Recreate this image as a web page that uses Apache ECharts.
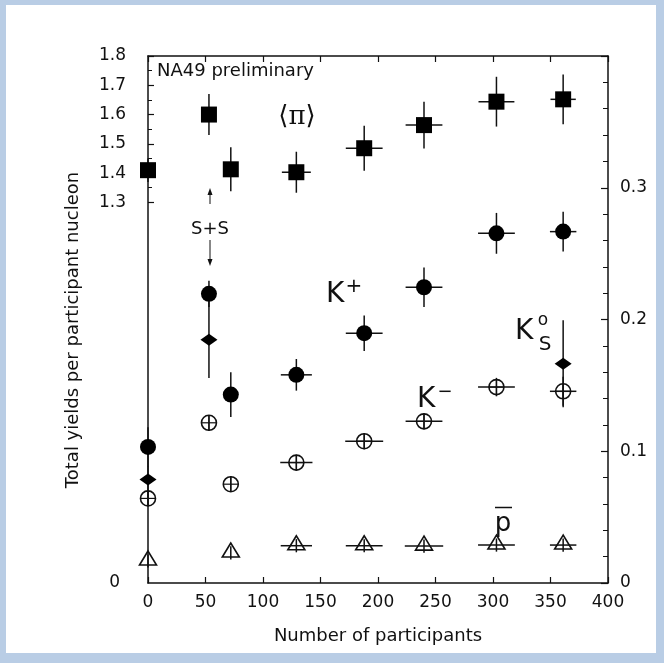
<!DOCTYPE html>
<html><head><meta charset="utf-8">
<script src="https://cdn.jsdelivr.net/npm/echarts@6/dist/echarts.min.js"></script>
<style>
html,body{margin:0;padding:0;background:#b9cde5;width:664px;height:663px;overflow:hidden;}
#frame{position:absolute;left:6px;top:5px;width:650px;height:648px;background:#fff;}
#chart{position:absolute;left:0;top:0;width:664px;height:663px;}
</style></head><body>
<div id="frame"></div><div id="chart"></div>
<script>
// ---- data ----
const xTicks = [0, 50, 100, 150, 200, 250, 300, 350, 400];
const leftTickLabels = [1.3, 1.4, 1.5, 1.6, 1.7, 1.8];
const rightTickLabels = [0, 0.1, 0.2, 0.3];

// <pi> (left axis)
const pionX    = [0, 53, 72, 129, 188, 240, 303, 361];
const pionY    = [1.41, 1.60, 1.413, 1.403, 1.485, 1.564, 1.644, 1.652];
const pionYErr = [0.04, 0.07, 0.075, 0.07, 0.077, 0.08, 0.085, 0.085];
const pionXErr = [0, 0, 0, 12.6, 16, 16, 15.6, 11];

// K+ (right axis)
const kplusX    = [0, 53, 72, 129, 188, 240, 303, 361];
const kplusY    = [0.1033, 0.2195, 0.143, 0.158, 0.1896, 0.2245, 0.2654, 0.2667];
const kplusYErr = [0.015, 0.01, 0.017, 0.012, 0.0135, 0.015, 0.0155, 0.015];
const kplusXErr = [0, 0, 0, 13.5, 16, 16, 16, 11.5];

// K0S (right axis)
const k0X    = [0, 53, 361];
const k0Y    = [0.0786, 0.1846, 0.1664];
const k0YErr = [0.01, 0.029, 0.033];
const k0XErr = [0, 0, 0];

// K- (right axis)
const kminusX    = [0, 53, 72, 129, 188, 240, 303, 361];
const kminusY    = [0.0642, 0.1216, 0.075, 0.0914, 0.1076, 0.1227, 0.1487, 0.1455];
const kminusYErr = [0.006, 0.006, 0.006, 0.006, 0.006, 0.006, 0.007, 0.011];
const kminusXErr = [0, 0, 0, 14, 16.5, 16, 16, 11.5];

// pbar (right axis)
const pbarX    = [0, 72, 129, 188, 240, 303, 361];
const pbarY    = [0.0167, 0.0228, 0.0283, 0.0283, 0.028, 0.0288, 0.0288];
const pbarYErr = [0.005, 0.005, 0.005, 0.005, 0.005, 0.005, 0.005];
const pbarXErr = [0, 0, 13.6, 16, 16.7, 16, 11.5];

// ---- build ----
const INK = '#111';
const FONT = 'DejaVu Sans';
function rows(xs, ys, eys, exs) { return xs.map((x, i) => [x, ys[i], eys[i], exs[i]]); }
function pts(xs, ys) { return xs.map((x, i) => [x, ys[i]]); }

function errRender(params, api) {
  const x = api.value(0), y = api.value(1), ey = api.value(2), ex = api.value(3);
  const ch = [];
  const a = api.coord([x, y - ey]), b = api.coord([x, y + ey]);
  ch.push({type: 'line', shape: {x1: a[0], y1: a[1], x2: b[0], y2: b[1]}, style: {stroke: INK, lineWidth: 1.5}});
  if (ex > 0) {
    const c = api.coord([x - ex, y]), d = api.coord([x + ex, y]);
    ch.push({type: 'line', shape: {x1: c[0], y1: c[1], x2: d[0], y2: d[1]}, style: {stroke: INK, lineWidth: 1.5}});
  }
  return {type: 'group', children: ch};
}
function oplusRender(params, api) {
  const p = api.coord([api.value(0), api.value(1)]);
  const r = 7.5;
  return {type: 'group', children: [
    {type: 'circle', shape: {cx: p[0], cy: p[1], r: r}, style: {fill: 'rgba(0,0,0,0)', stroke: INK, lineWidth: 1.6}},
    {type: 'line', shape: {x1: p[0] - r, y1: p[1], x2: p[0] + r, y2: p[1]}, style: {stroke: INK, lineWidth: 1.2}},
    {type: 'line', shape: {x1: p[0], y1: p[1] - r, x2: p[0], y2: p[1] + r}, style: {stroke: INK, lineWidth: 1.2}}
  ]};
}
function triRender(params, api) {
  const p = api.coord([api.value(0), api.value(1)]);
  const w = 17;
  return {type: 'polygon', shape: {points: [[p[0], p[1] - 10], [p[0] - w / 2, p[1] + 4], [p[0] + w / 2, p[1] + 4]]},
    style: {fill: 'rgba(0,0,0,0)', stroke: INK, lineWidth: 1.6}};
}

const errSeries = (data, yi) => ({type: 'custom', xAxisIndex: 0, yAxisIndex: yi, renderItem: errRender,
  encode: {x: 0, y: 1}, data: data, z: 2, silent: true});

const chart = echarts.init(document.getElementById('chart'), null, {renderer: 'canvas'});
const axisLine = {show: true, onZero: false, lineStyle: {color: INK, width: 1.5}};
const labelStyle = {color: INK, fontFamily: FONT, fontSize: 17};
const solid = {color: '#000', opacity: 1};

const option = {
  animation: false,
  grid: [
    {left: 148, right: 56, top: 56, bottom: 80},
    {left: 148, right: 56, top: 56, height: 527 * 0.5 / 1.8}
  ],
  xAxis: [
    {type: 'value', gridIndex: 0, position: 'bottom', min: xTicks[0], max: xTicks[xTicks.length - 1], interval: xTicks[1] - xTicks[0],
      axisLine: axisLine, splitLine: {show: false},
      axisTick: {show: true, inside: true, length: 6, lineStyle: {color: INK, width: 1.2}},
      axisLabel: Object.assign({margin: 11}, labelStyle),
      name: 'Number of participants', nameLocation: 'middle', nameGap: 44,
      nameTextStyle: {color: INK, fontFamily: FONT, fontSize: 18}},
    {type: 'value', gridIndex: 0, position: 'top', min: xTicks[0], max: xTicks[xTicks.length - 1], interval: xTicks[1] - xTicks[0],
      axisLine: axisLine, splitLine: {show: false},
      axisTick: {show: true, inside: true, length: 6, lineStyle: {color: INK, width: 1.2}},
      axisLabel: {show: false}},
    {type: 'value', gridIndex: 1, min: 0, max: 400, show: false}
  ],
  yAxis: [
    {type: 'value', gridIndex: 0, position: 'left', min: 0, max: 1.8, interval: 1.8,
      axisLine: axisLine, splitLine: {show: false}, axisTick: {show: false},
      axisLabel: Object.assign({margin: 28, formatter: v => v === 0 ? '0' : ''}, labelStyle)},
    {type: 'value', gridIndex: 0, position: 'right', min: 0, max: 0.4, interval: 0.1,
      axisLine: axisLine, splitLine: {show: false},
      axisTick: {show: true, inside: true, length: 7, lineStyle: {color: INK, width: 1.2}},
      minorTick: {show: true, splitNumber: 5, length: 5, lineStyle: {color: INK, width: 1}},
      minorSplitLine: {show: false},
      axisLabel: Object.assign({margin: 12, formatter: v => {
        const m = rightTickLabels.find(t => Math.abs(t - v) < 1e-6);
        return m === undefined ? '' : (m === 0 ? '0' : m.toFixed(1));
      }}, labelStyle)},
    {type: 'value', gridIndex: 1, position: 'left', min: leftTickLabels[0], max: leftTickLabels[leftTickLabels.length - 1], interval: 0.1,
      axisLine: {show: false, onZero: false}, splitLine: {show: false},
      axisTick: {show: true, inside: true, length: 6, lineStyle: {color: INK, width: 1.2}},
      minorTick: {show: true, splitNumber: 2, length: 4, lineStyle: {color: INK, width: 1}},
      minorSplitLine: {show: false},
      axisLabel: Object.assign({margin: 22, formatter: v => v.toFixed(1)}, labelStyle)}
  ],
  series: [
    errSeries(rows(pionX, pionY, pionYErr, pionXErr), 0),
    errSeries(rows(kplusX, kplusY, kplusYErr, kplusXErr), 1),
    errSeries(rows(k0X, k0Y, k0YErr, k0XErr), 1),
    errSeries(rows(kminusX, kminusY, kminusYErr, kminusXErr), 1),
    errSeries(rows(pbarX, pbarY, pbarYErr, pbarXErr), 1),
    {name: '<π>', type: 'scatter', xAxisIndex: 0, yAxisIndex: 0, symbol: 'rect', symbolSize: 16,
      itemStyle: solid, data: pts(pionX, pionY), z: 3, silent: true},
    {name: 'K+', type: 'scatter', xAxisIndex: 0, yAxisIndex: 1, symbol: 'circle', symbolSize: 16,
      itemStyle: solid, data: pts(kplusX, kplusY), z: 3, silent: true},
    {name: 'K0S', type: 'scatter', xAxisIndex: 0, yAxisIndex: 1, symbol: 'diamond', symbolSize: [17, 12],
      itemStyle: solid, data: pts(k0X, k0Y), z: 3, silent: true},
    {name: 'K-', type: 'custom', xAxisIndex: 0, yAxisIndex: 1, renderItem: oplusRender, encode: {x: 0, y: 1},
      data: pts(kminusX, kminusY), z: 3, silent: true},
    {name: 'pbar', type: 'custom', xAxisIndex: 0, yAxisIndex: 1, renderItem: triRender, encode: {x: 0, y: 1},
      data: pts(pbarX, pbarY), z: 3, silent: true}
  ],
  graphic: [
    {type: 'text', x: 73, y: 330, rotation: Math.PI / 2,
      style: {text: 'Total yields per participant nucleon', fill: INK, font: '18px "DejaVu Sans"', align: 'center', verticalAlign: 'middle'}},
    {type: 'text', x: 157, y: 71, style: {text: 'NA49 preliminary', fill: INK, font: '18px "DejaVu Sans"', align: 'left', verticalAlign: 'middle'}},
    {type: 'text', x: 297, y: 117, style: {text: '⟨π⟩', fill: INK, font: '26px "DejaVu Serif"', align: 'center', verticalAlign: 'middle'}},
    {type: 'text', x: 326, y: 295, style: {text: 'K', fill: INK, font: '28px "DejaVu Sans"', align: 'left', verticalAlign: 'middle'}},
    {type: 'text', x: 354, y: 287, style: {text: '+', fill: INK, font: '20px "DejaVu Sans"', align: 'center', verticalAlign: 'middle'}},
    {type: 'text', x: 417, y: 400, style: {text: 'K', fill: INK, font: '28px "DejaVu Sans"', align: 'left', verticalAlign: 'middle'}},
    {type: 'text', x: 445, y: 392, style: {text: '−', fill: INK, font: '18px "DejaVu Sans"', align: 'center', verticalAlign: 'middle'}},
    {type: 'text', x: 515, y: 332, style: {text: 'K', fill: INK, font: '28px "DejaVu Sans"', align: 'left', verticalAlign: 'middle'}},
    {type: 'text', x: 543, y: 321, style: {text: 'o', fill: INK, font: '17px "DejaVu Sans"', align: 'center', verticalAlign: 'middle'}},
    {type: 'text', x: 545, y: 345, style: {text: 'S', fill: INK, font: '20px "DejaVu Sans"', align: 'center', verticalAlign: 'middle'}},
    {type: 'text', x: 503, y: 524, style: {text: 'p', fill: INK, font: '26px "DejaVu Sans"', align: 'center', verticalAlign: 'middle'}},
    {type: 'line', shape: {x1: 495, y1: 507.5, x2: 512, y2: 507.5}, style: {stroke: INK, lineWidth: 1.5}},
    {type: 'text', x: 210, y: 229, style: {text: 'S+S', fill: INK, font: '18px "DejaVu Sans"', align: 'center', verticalAlign: 'middle'}},
    {type: 'line', shape: {x1: 210, y1: 204, x2: 210, y2: 191}, style: {stroke: INK, lineWidth: 1}},
    {type: 'polygon', shape: {points: [[210, 188], [207.5, 195], [212.5, 195]]}, style: {fill: INK}},
    {type: 'line', shape: {x1: 210, y1: 240, x2: 210, y2: 262}, style: {stroke: INK, lineWidth: 1}},
    {type: 'polygon', shape: {points: [[210, 266], [207.5, 259], [212.5, 259]]}, style: {fill: INK}}
  ]
};
chart.setOption(option);
</script>
</body></html>
